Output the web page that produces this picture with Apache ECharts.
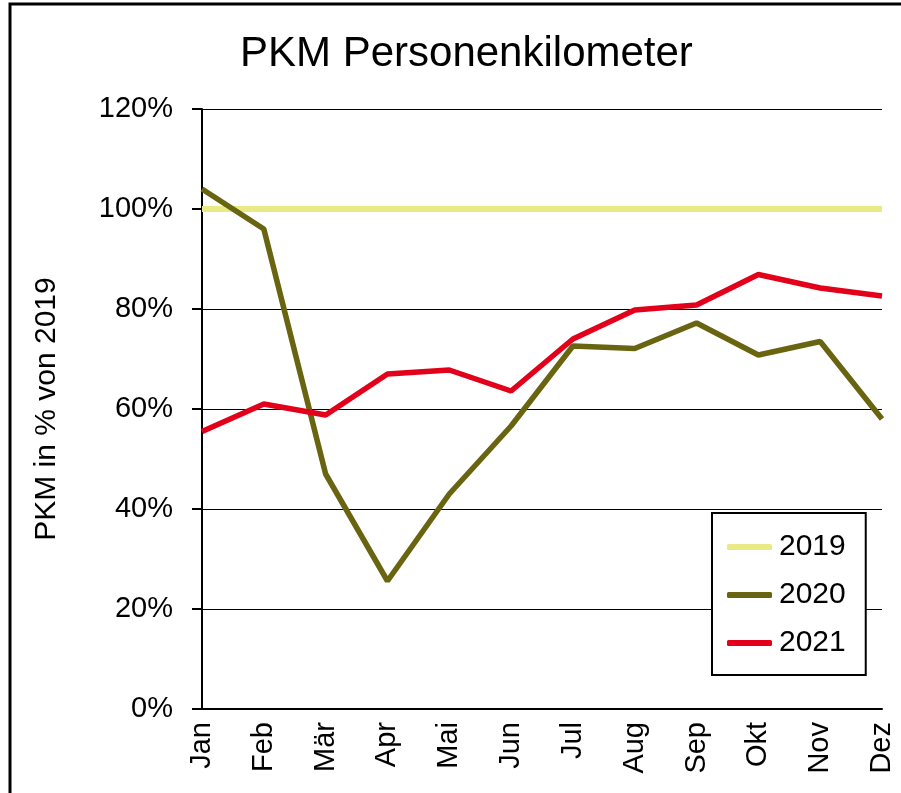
<!DOCTYPE html>
<html>
<head>
<meta charset="utf-8">
<script src="https://cdn.jsdelivr.net/npm/echarts@6/dist/echarts.min.js"></script>
<style>
  html, body { margin: 0; padding: 0; background: #fff; }
  #main { width: 901px; height: 793px; }
</style>
</head>
<body>
<div id="main"></div>
<script>
// Monate
var months = ['Jan', 'Feb', 'Mär', 'Apr', 'Mai', 'Jun', 'Jul', 'Aug', 'Sep', 'Okt', 'Nov', 'Dez'];
// PKM in % von 2019
var pkm2019 = [100, 100, 100, 100, 100, 100, 100, 100, 100, 100, 100, 100];
var pkm2020 = [104, 96, 47, 25.6, 43, 56.6, 72.6, 72.1, 77.2, 70.8, 73.5, 58];
var pkm2021 = [55.5, 61, 58.8, 67, 67.8, 63.6, 74, 79.8, 80.8, 86.9, 84.2, 82.6];
var yTicks = [0, 20, 40, 60, 80, 100, 120];

var fontName = 'Liberation Sans, Arial, sans-serif';

var option = {
    animation: false,
    backgroundColor: '#fff',
    title: {
        text: 'PKM Personenkilometer',
        left: 235,
        top: 28,
        textStyle: {
            fontFamily: fontName,
            fontSize: 42,
            fontWeight: 'normal',
            color: '#000'
        }
    },
    graphic: [{
        type: 'rect',
        shape: { x: 10, y: 4, width: 1000, height: 1000 },
        style: { fill: 'none', stroke: '#000', lineWidth: 3 },
        silent: true
    }],
    legend: {
        orient: 'vertical',
        left: 712,
        top: 513,
        padding: [19, 20, 17, 15],
        itemGap: 18,
        itemWidth: 45,
        itemHeight: 6,
        icon: 'roundRect',
        backgroundColor: '#fff',
        borderColor: '#000',
        borderWidth: 2,
        borderRadius: 0,
        textStyle: {
            fontFamily: fontName,
            fontSize: 30,
            color: '#000',
            lineHeight: 30,
            padding: [0, 0, 0, 2]
        },
        data: ['2019', '2020', '2021']
    },
    grid: {
        left: 202,
        right: 19,
        top: 109,
        bottom: 84,
        containLabel: false
    },
    xAxis: {
        type: 'category',
        data: months,
        boundaryGap: false,
        axisLine: { lineStyle: { color: '#000', width: 2 } },
        axisTick: { show: false },
        axisLabel: {
            rotate: 90,
            margin: 13,
            fontFamily: fontName,
            fontSize: 29,
            color: '#000'
        },
        splitLine: { show: false }
    },
    yAxis: {
        type: 'value',
        min: yTicks[0],
        max: yTicks[yTicks.length - 1],
        interval: 20,
        name: 'PKM in % von 2019',
        nameLocation: 'middle',
        nameRotate: 90,
        nameGap: 140,
        nameTextStyle: {
            fontFamily: fontName,
            fontSize: 30,
            color: '#000'
        },
        axisLine: { show: true, lineStyle: { color: '#000', width: 2 } },
        axisTick: { show: true, inside: false, length: 10, lineStyle: { color: '#000', width: 2 } },
        axisLabel: {
            margin: 29,
            fontFamily: fontName,
            fontSize: 29,
            color: '#000',
            formatter: '{value}%'
        },
        splitLine: { show: true, lineStyle: { color: '#000', width: 1 } }
    },
    series: [
        {
            name: '2019',
            type: 'line',
            data: pkm2019,
            symbol: 'none',
            color: '#E9EA86',
            lineStyle: { width: 6, color: '#E9EA86' }
        },
        {
            name: '2020',
            type: 'line',
            data: pkm2020,
            symbol: 'none',
            color: '#696410',
            lineStyle: { width: 5.5, color: '#696410' }
        },
        {
            name: '2021',
            type: 'line',
            data: pkm2021,
            symbol: 'none',
            color: '#E2001A',
            lineStyle: { width: 5.5, color: '#E2001A' }
        }
    ]
};

var myChart = echarts.init(document.getElementById('main'));
myChart.setOption(option);
</script>
</body>
</html>
